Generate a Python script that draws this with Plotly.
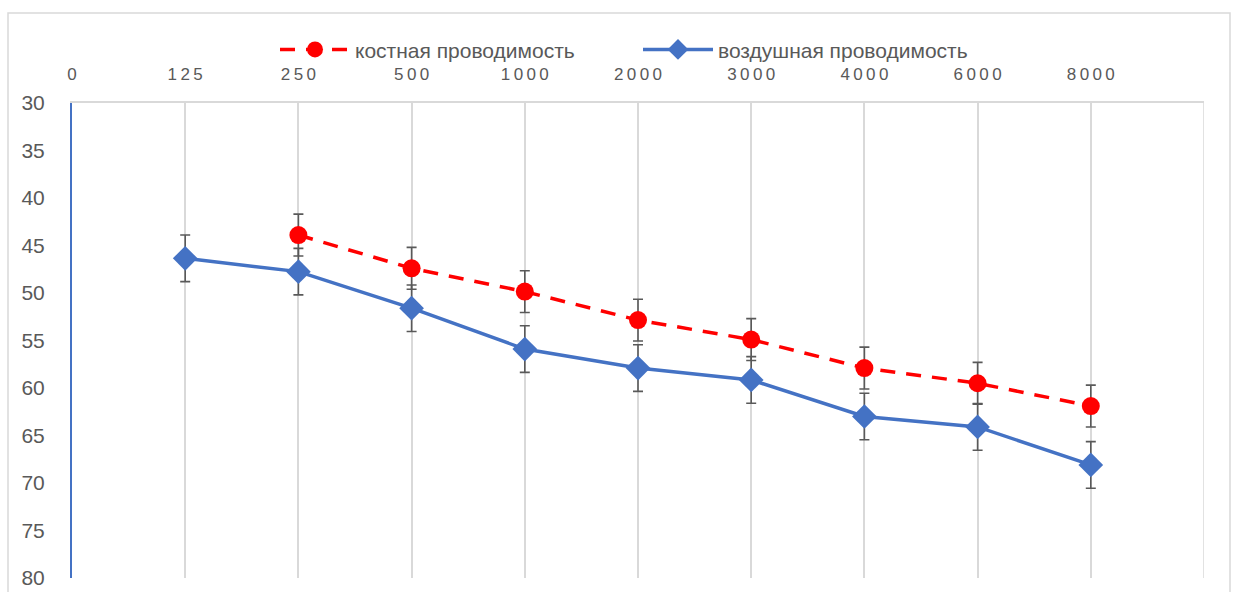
import plotly.graph_objects as go

# Frequencies (Hz) shown along the top axis
freq_labels = ["0", "125", "250", "500", "1000", "2000", "3000", "4000", "6000", "8000"]

# Hearing thresholds (dB), with error half-widths
bone = [None, None, 43.9, 47.4, 49.85, 52.85, 54.9, 57.9, 59.5, 61.9]
bone_err = [None, None, 2.2, 2.2, 2.2, 2.2, 2.2, 2.2, 2.2, 2.2]
air = [None, 46.35, 47.75, 51.6, 55.9, 57.9, 59.15, 63.0, 64.1, 68.1]
air_err = [None, 2.45, 2.45, 2.45, 2.45, 2.45, 2.45, 2.45, 2.45, 2.45]

y_ticks = [30, 35, 40, 45, 50, 55, 60, 65, 70, 75, 80]

pos = list(range(len(freq_labels)))
spaced = ["\u2009".join(s) for s in freq_labels]

TEXT = "#595959"
GRID = "#d9d9d9"

fig = go.Figure()
fig.add_trace(go.Scatter(
    x=pos, y=bone, name="костная проводимость", mode="lines+markers",
    line=dict(color="#FF0000", width=3.5, dash="15px,11px"),
    marker=dict(symbol="circle", size=18, color="#FF0000"),
    error_y=dict(type="data", array=bone_err, color=TEXT, thickness=1.6, width=5),
    connectgaps=False,
))
fig.add_trace(go.Scatter(
    x=pos, y=air, name="воздушная проводимость", mode="lines+markers",
    line=dict(color="#4472C4", width=3.5),
    marker=dict(symbol="diamond", size=19, color="#4472C4"),
    error_y=dict(type="data", array=air_err, color=TEXT, thickness=1.6, width=5),
    connectgaps=False,
))

fig.update_layout(
    width=1235, height=592,
    margin=dict(l=72, r=31, t=103, b=14, autoexpand=False),
    paper_bgcolor="white", plot_bgcolor="white",
    font=dict(family="Liberation Sans, Arial, sans-serif", color=TEXT),
    showlegend=True,
    legend=dict(
        orientation="h", x=0.5, xanchor="center", y=1.112, yanchor="middle",
        font=dict(size=21, color=TEXT), itemwidth=70, entrywidth=278,
        traceorder="normal", bgcolor="rgba(0,0,0,0)",
    ),
    xaxis=dict(
        side="top", range=[0, 10], tickmode="array", tickvals=pos, ticktext=spaced,
        showgrid=True, gridcolor=GRID, gridwidth=1.5,
        showline=True, linecolor=GRID, linewidth=1.5,
        ticks="", tickfont=dict(size=17, color=TEXT), ticklabelstandoff=14,
        zeroline=False, automargin=False,
    ),
    yaxis=dict(
        range=[80, 30], tickmode="array", tickvals=y_ticks,
        showgrid=False, zeroline=False,
        showline=True, linecolor="#4472C4", linewidth=2,
        ticks="", tickfont=dict(size=21, color=TEXT), ticklabelstandoff=21,
        automargin=False,
    ),
    shapes=[
        # closing gridline on the right edge of the plot area
        dict(type="line", xref="x", yref="paper", x0=10, x1=10, y0=0, y1=1,
             line=dict(color=GRID, width=1.5), layer="below"),
        # chart frame
        dict(type="rect", xref="paper", yref="paper",
             x0=(8 - 72) / 1132, x1=(1230 - 72) / 1132,
             y0=-0.1, y1=(578 - 13) / 475,
             line=dict(color=GRID, width=1.5), fillcolor="rgba(0,0,0,0)", layer="below"),
    ],
)

fig.write_html("out.html")
